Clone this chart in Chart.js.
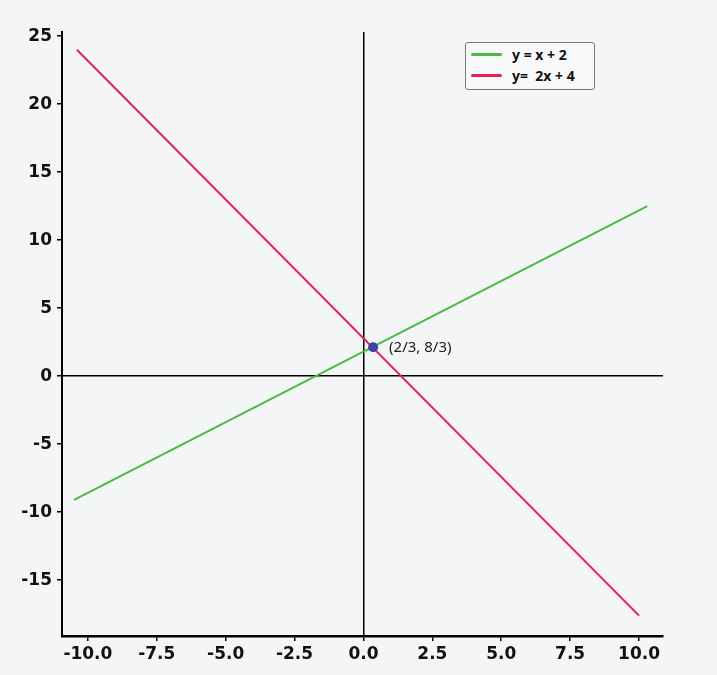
<!DOCTYPE html>
<html>
<head>
<meta charset="utf-8">
<script src="https://cdn.jsdelivr.net/npm/chart.js@4/dist/chart.umd.min.js"></script>
<style>
    html, body { margin: 0; padding: 0; background: #f4f5f7; }
    #wrap { position: relative; width: 717px; height: 675px; }
    #legend {
        position: absolute; left: 465px; top: 42px; width: 130px; height: 48px;
        border: 1px solid #777; border-radius: 3px; background: #f7f8fa;
        font-family: 'Noto Sans', sans-serif; font-weight: bold; font-size: 14px; color: #111;
        box-sizing: border-box; padding: 1px 0 0 5px;
    }
    .row { display: flex; align-items: center; height: 21px; white-space: pre; }
    .swatch { width: 31px; height: 3px; border-radius: 2px; margin-right: 10px; }
</style>
</head>
<body>
<div id="wrap">
    <canvas id="mainChart" width="717" height="675"></canvas>
    <div id="legend">
        <div class="row"><span class="swatch" style="background:#4cb944"></span>y = x + 2</div>
        <div class="row"><span class="swatch" style="background:#e8204f"></span>y=  2x + 4</div>
    </div>
</div>
<script>
// Data
const greenX = [-10.5, 10.3];
const greenY = [-9.1, 12.5];
const redX = [-10.4, 10.0];
const redY = [24.0, -17.6];
const pointX = [0.35];
const pointY = [2.13];
const pointLabel = '(2/3, 8/3)';

const xTicks = { min: -10.94, max: 10.87, step: 2.5 };
const yTicks = { min: -19.1, max: 25.3, step: 5 };

function toXY(xs, ys) {
    return xs.map((x, i) => ({ x: x, y: ys[i] }));
}

// label next to the intersection point
const pointLabelPlugin = {
    id: 'pointLabel',
    afterDatasetsDraw(chart) {
        const meta = chart.getDatasetMeta(2);
        const el = meta.data[0];
        const ctx = chart.ctx;
        ctx.save();
        ctx.font = '15px "Noto Sans", sans-serif';
        ctx.fillStyle = '#222';
        ctx.textBaseline = 'middle';
        ctx.fillText(pointLabel, el.x + 16, el.y + 1);
        ctx.restore();
    }
};

const zeroGrid = (c) => c.tick && c.tick.value === 0 ? '#000' : 'rgba(0,0,0,0)';

const ctx = document.getElementById('mainChart').getContext('2d');
new Chart(ctx, {
    type: 'scatter',
    data: {
        datasets: [
            {
                label: 'y = x + 2',
                data: toXY(greenX, greenY),
                showLine: true,
                borderColor: '#4cb944',
                borderWidth: 2,
                pointRadius: 0,
                order: 2
            },
            {
                label: 'y=  2x + 4',
                data: toXY(redX, redY),
                showLine: true,
                borderColor: '#e8204f',
                borderWidth: 2,
                pointRadius: 0,
                order: 1
            },
            {
                label: 'point',
                data: toXY(pointX, pointY),
                backgroundColor: '#3a46a0',
                borderColor: '#3a46a0',
                borderWidth: 0,
                pointRadius: 5,
                order: 0
            }
        ]
    },
    options: {
        responsive: false,
        animation: false,
        layout: { padding: { top: 32, right: 54, left: 0, bottom: 0 } },
        plugins: {
            legend: { display: false },
            tooltip: { enabled: false }
        },
        scales: {
            x: {
                type: 'linear',
                min: xTicks.min,
                max: xTicks.max,
                afterFit: (s) => { s.height = 39; },
                border: { color: '#000', width: 2.5 },
                grid: {
                    color: zeroGrid,
                    lineWidth: 1.5,
                    tickColor: '#000',
                    tickLength: 5,
                    tickWidth: 1.5
                },
                ticks: {
                    stepSize: xTicks.step,
                    includeBounds: false,
                    autoSkip: false,
                    maxRotation: 0,
                    padding: 3,
                    color: '#111',
                    font: { family: 'DejaVu Sans', weight: 'bold', size: 17 },
                    callback: (v) => Number(v).toFixed(1)
                }
            },
            y: {
                type: 'linear',
                min: yTicks.min,
                max: yTicks.max,
                afterFit: (s) => { s.width = 62; },
                border: { color: '#000', width: 2 },
                grid: {
                    color: zeroGrid,
                    lineWidth: 1.5,
                    tickColor: '#000',
                    tickLength: 5,
                    tickWidth: 1.5
                },
                ticks: {
                    stepSize: yTicks.step,
                    includeBounds: false,
                    padding: 5,
                    color: '#111',
                    font: { family: 'DejaVu Sans', weight: 'bold', size: 17 }
                }
            }
        }
    },
    plugins: [pointLabelPlugin]
});
</script>
</body>
</html>
